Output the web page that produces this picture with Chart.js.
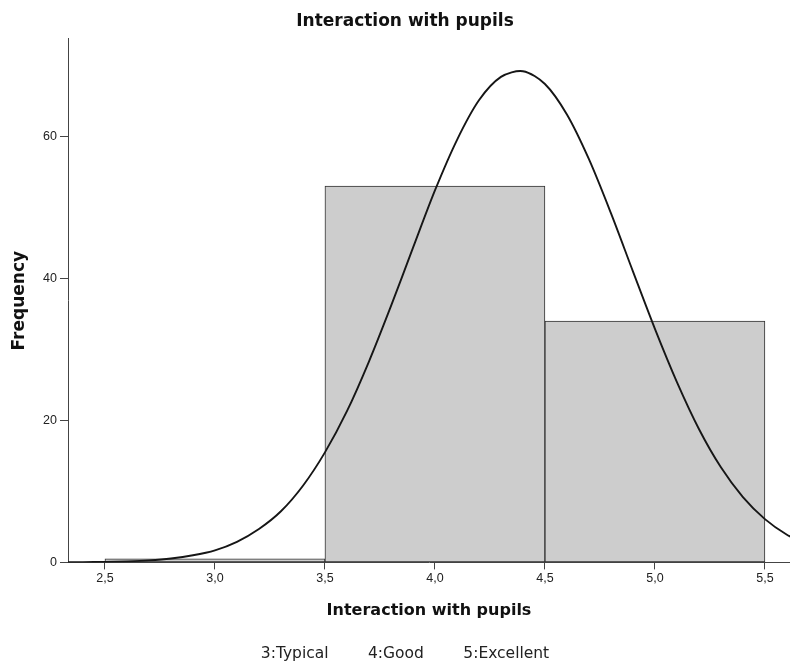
<!DOCTYPE html>
<html>
<head>
<meta charset="utf-8">
<script src="https://cdn.jsdelivr.net/npm/chart.js@4/dist/chart.umd.min.js"></script>
<style>
  html, body { margin: 0; padding: 0; background: #fff; }
  #wrap { width: 790px; height: 666px; }
</style>
</head>
<body>
<div id="wrap"><canvas id="hist"></canvas></div>
<script>
// histogram bins (centre of each bin) and their counts
const binCenters = [3, 4, 5];
const binCounts = [0.5, 53, 34];

// normal curve
const curveX = [2.3, 2.4, 2.5, 2.6, 2.7, 2.8, 2.9, 3.0, 3.1, 3.2, 3.3, 3.4, 3.5, 3.6, 3.7, 3.8, 3.9,
  4.0, 4.1, 4.2, 4.3, 4.4, 4.5, 4.6, 4.7, 4.8, 4.9, 5.0, 5.1, 5.2, 5.3, 5.4, 5.5, 5.6, 5.7];
const curveY = [0.02, 0.04, 0.07, 0.15, 0.29, 0.55, 1.0, 1.7, 2.9, 4.7, 7.2, 10.8, 15.5, 21.3, 28.3, 36.1, 44.3,
  52.4, 59.5, 65.1, 68.4, 69.2, 67.4, 63.1, 56.8, 49.2, 41.0, 32.9, 25.4, 18.8, 13.4, 9.2, 6.1, 3.9, 2.4];

const xTickValues = [2.5, 3.0, 3.5, 4.0, 4.5, 5.0, 5.5];
const yTickValues = [0, 20, 40, 60];
const footnoteLabels = ['3:Typical', '4:Good', '5:Excellent'];

(function () {
    const canvas = document.getElementById('hist');
    const axisColor = '#444';
    const tickFont = { family: '"Liberation Sans", Arial, sans-serif', size: 12.5 };
    const boldFont = (size) => ({ family: '"DejaVu Sans", sans-serif', size: size, weight: 'bold' });

    new Chart(canvas, {
        type: 'bar',
        data: {
            datasets: [{
                type: 'line',
                data: curveX.map((x, i) => ({ x: x, y: curveY[i] })),
                borderColor: '#161616',
                borderWidth: 1.9,
                pointRadius: 0,
                tension: 0.3,
                fill: false,
                order: 0,
            }, {
                type: 'bar',
                data: binCenters.map((x, i) => ({ x: x, y: binCounts[i] })),
                backgroundColor: '#cdcdcd',
                borderColor: '#303030',
                borderWidth: 1,
                borderSkipped: false,
                barThickness: 'flex',
                barPercentage: 1,
                categoryPercentage: 1,
                order: 1,
            }],
        },
        options: {
            responsive: true,
            maintainAspectRatio: false,
            animation: false,
            layout: { padding: { left: 20, right: 0, top: 0, bottom: 3 } },
            plugins: {
                legend: { display: false },
                tooltip: { enabled: false },
                title: {
                    display: true,
                    text: 'Interaction with pupils',
                    color: '#111',
                    font: boldFont(17),
                    padding: { top: 11.5, bottom: 7 },
                },
                subtitle: {
                    display: true,
                    position: 'bottom',
                    text: footnoteLabels.join('        '),
                    color: '#222',
                    font: { family: '"DejaVu Sans", sans-serif', size: 15.5 },
                    padding: { top: 0, bottom: 0 },
                },
            },
            scales: {
                x: {
                    type: 'linear',
                    min: 2.332,
                    max: 5.614,
                    offset: false,
                    afterBuildTicks: (s) => { s.ticks = xTickValues.map((v) => ({ value: v })); },
                    afterFit: (s) => { s.height = 82; },
                    grid: { offset: false, drawOnChartArea: false, tickLength: 7, color: axisColor },
                    border: { display: true, color: axisColor },
                    ticks: {
                        padding: 2,
                        color: '#222',
                        font: tickFont,
                        maxRotation: 0,
                        callback: (v) => Number(v).toFixed(1).replace('.', ','),
                    },
                    title: {
                        display: true,
                        text: 'Interaction with pupils',
                        color: '#111',
                        font: boldFont(16),
                        padding: { top: 0, bottom: 24 },
                    },
                },
                y: {
                    min: 0,
                    max: 73.75,
                    afterBuildTicks: (s) => { s.ticks = yTickValues.map((v) => ({ value: v })); },
                    afterFit: (s) => { s.width = 48; },
                    grid: { drawOnChartArea: false, tickLength: 8, color: axisColor },
                    border: { display: true, color: axisColor },
                    ticks: { padding: 3, color: '#222', font: tickFont },
                    title: {
                        display: true,
                        text: 'Frequency',
                        color: '#111',
                        font: boldFont(17),
                        padding: { top: -11, bottom: 0 },
                    },
                },
            },
        },
    });
})();
</script>
</body>
</html>
